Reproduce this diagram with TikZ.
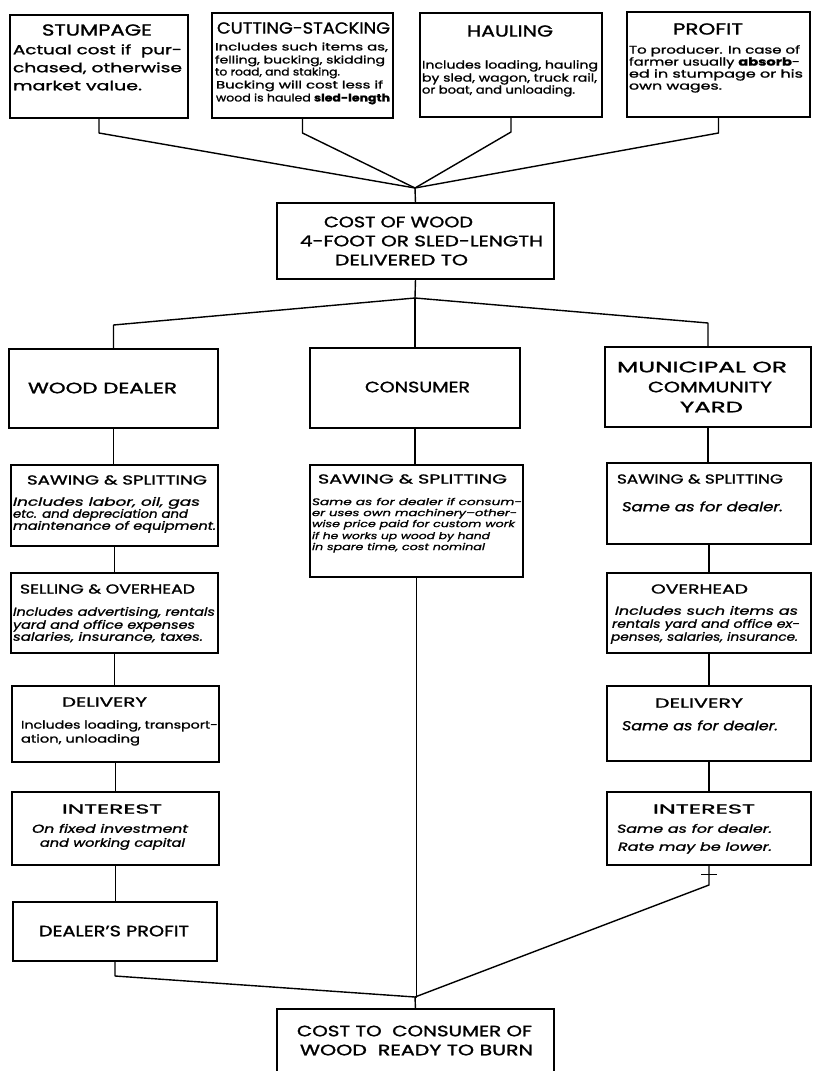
\documentclass[tikz,border=0pt]{standalone}
\usepackage{fontspec}
\setmainfont{Poppins}[FakeBold=1.2]
\usepackage{graphicx}
\usetikzlibrary{calc}

% squeeze or stretch a line of lettering to a given width (in pt)
\newcommand\fitto[2]{\resizebox{#1pt}{\height}{#2}}
\newcounter{tn}
% one line of lettering: style, x, y, width, text
\newcommand\lineat[5]{\stepcounter{tn}\node[#1] (t\arabic{tn}) at (#2,#3) {\fitto{#4}{#5}};}
% a framed box from its top-left and bottom-right corners
\newcommand\pbox[5]{%
  \pgfmathsetmacro\pbW{#4-#2}\pgfmathsetmacro\pbH{#5-#3}%
  \node[box, anchor=north west, minimum width=\pbW pt, minimum height=\pbH pt] (#1) at (#2,#3) {};}

\tikzset{
  box/.style={draw, line width=2.3pt, inner sep=0pt, outer sep=0pt, fill=white},
  wire/.style={line width=1.4pt, line join=round},
  txt/.style={inner sep=0pt, outer sep=0pt, anchor=west},
  ttop/.style={txt, font=\fontsize{16}{18}\selectfont, text height=11.2pt, text depth=0pt},
  tcap/.style={txt, font=\fontsize{15}{17}\selectfont, text height=10.5pt, text depth=0pt},
  thead/.style={txt, font=\fontsize{13}{15}\selectfont, text height=9.1pt, text depth=0pt},
  bodyL/.style={txt, font=\fontsize{13}{15}\selectfont, text height=8.5pt, text depth=0pt},
  body/.style={txt, font=\fontsize{11}{13}\selectfont, text height=7.2pt, text depth=0pt},
  bodyI/.style={txt, font=\fontsize{11.5}{13}\selectfont\itshape, text height=7.5pt, text depth=0pt},
  bodyS/.style={txt, font=\fontsize{10.5}{12}\selectfont, text height=6.9pt, text depth=0pt},
  bodyXS/.style={txt, font=\fontsize{9.5}{11}\selectfont\itshape, text height=6.2pt, text depth=0pt},
}

\begin{document}
\begin{tikzpicture}[x=1pt, y=-1pt]
\useasboundingbox (0,0) rectangle (812,1071);
\fill[white] (0,0) rectangle (812,1071);
\clip (0,0) rectangle (812,1071);

% ---------- top row: elements of the cost ----------
\pbox{stump}{10}{15}{188}{118}
\lineat{ttop}{42}{30}{110}{STUMPAGE}
\lineat{bodyL}{13}{50}{169}{Actual cost if\ \ pur-}
\lineat{bodyL}{13}{68}{169}{chased, otherwise}
\lineat{bodyL}{13}{86}{129}{market value.}

\pbox{cut}{212}{13}{393}{118}
\lineat{ttop}{217}{28}{173}{CUTTING-STACKING}
\lineat{bodyS}{215}{47}{173}{Includes such items as,}
\lineat{bodyS}{215}{60}{170}{felling, bucking, skidding}
\lineat{bodyS}{215}{72}{125}{to road, and staking.}
\lineat{bodyS}{216}{85}{167}{Bucking will cost less if}
\lineat{bodyS}{216}{98}{174}{wood is hauled \textbf{sled-length}}

\pbox{haul}{420}{13}{602}{117}
\lineat{ttop}{467}{31}{86}{HAULING}
\lineat{body}{422}{65}{176}{Includes loading, hauling}
\lineat{body}{422}{78}{175}{by sled, wagon, truck rail,}
\lineat{body}{422}{90}{153}{or boat, and unloading.}

\pbox{prof}{627}{12}{810}{117}
\lineat{ttop}{673}{29}{70}{PROFIT}
\lineat{body}{629}{50}{171}{To producer. In case of}
\lineat{body}{629}{62}{171}{farmer usually \textbf{absorb}-}
\lineat{body}{629}{74}{174}{ed in stumpage or his}
\lineat{body}{629}{86}{93}{own wages.}

% ---------- cost of the wood delivered ----------
\pbox{cow}{277}{203}{554}{279}
\lineat{tcap}{324}{222}{149}{COST OF WOOD}
\lineat{tcap}{300}{241}{243}{4-FOOT OR SLED-LENGTH}
\lineat{tcap}{335}{260}{133}{DELIVERED TO}

% ---------- the three buyers ----------
\pbox{deal}{9}{349}{218}{428}
\lineat{tcap}{28}{388}{149}{WOOD DEALER}

\pbox{cons}{310}{348}{520}{428}
\lineat{tcap}{365}{387}{105}{CONSUMER}

\pbox{muni}{605}{347}{811}{427}
\lineat{tcap}{617}{367}{170}{MUNICIPAL OR}
\lineat{tcap}{648}{387}{124}{COMMUNITY}
\lineat{tcap}{680}{407}{63}{YARD}

% ---------- wood dealer column ----------
\pbox{dsaw}{11}{465}{218}{546}
\lineat{thead}{27}{480}{180}{SAWING \& SPLITTING}
\lineat{bodyI}{13}{502}{187}{Includes labor, oil, gas}
\lineat{bodyI}{13}{514}{175}{etc. and depreciation and}
\lineat{bodyI}{13}{526}{203}{maintenance of equipment.}

\pbox{sell}{11}{573}{218}{653}
\lineat{thead}{20}{589}{175}{SELLING \& OVERHEAD}
\lineat{bodyI}{13}{612}{202}{Includes advertising, rentals}
\lineat{bodyI}{13}{625}{182}{yard and office expenses}
\lineat{bodyI}{13}{637}{190}{salaries, insurance, taxes.}

\pbox{ddel}{12}{686}{219}{762}
\lineat{thead}{62}{702}{85}{DELIVERY}
\lineat{body}{21}{725}{197}{Includes loading, transport-}
\lineat{body}{21}{739}{119}{ation, unloading}

\pbox{dint}{12}{792}{219}{865}
\lineat{thead}{62}{809}{100}{INTEREST}
\lineat{bodyI}{32}{829}{156}{On fixed investment}
\lineat{bodyI}{40}{843}{145}{and working capital}

\pbox{dprof}{13}{902}{217}{961}
\lineat{tcap}{39}{931}{150}{DEALER'S PROFIT}

% ---------- consumer column ----------
\pbox{csaw}{310}{465}{523}{577}
\lineat{thead}{318}{479}{189}{SAWING \& SPLITTING}
\lineat{bodyXS}{312}{502}{210}{Same as for dealer if consum-}
\lineat{bodyXS}{312}{513}{205}{er uses own machinery--other-}
\lineat{bodyXS}{312}{524}{203}{wise price paid for custom work}
\lineat{bodyXS}{312}{536}{178}{if he works up wood by hand}
\lineat{bodyXS}{312}{547}{173}{in spare time, cost nominal}

% ---------- municipal yard column ----------
\pbox{msaw}{607}{463}{811}{544}
\lineat{thead}{617}{479}{166}{SAWING \& SPLITTING}
\lineat{bodyL}{622}{507}{161}{\itshape Same as for dealer.}

\pbox{mover}{607}{573}{811}{653}
\lineat{thead}{651}{589}{97}{OVERHEAD}
\lineat{bodyI}{615}{611}{183}{Includes such items as}
\lineat{bodyI}{612}{624}{188}{rentals yard and office ex-}
\lineat{bodyI}{611}{637}{187}{penses, salaries, insurance.}

\pbox{mdel}{607}{686}{811}{761}
\lineat{thead}{655}{703}{88}{DELIVERY}
\lineat{bodyL}{622}{726}{156}{\itshape Same as for dealer.}

\pbox{mint}{607}{792}{811}{865}
\lineat{thead}{653}{809}{102}{INTEREST}
\lineat{bodyI}{617}{829}{155}{Same as for dealer.}
\lineat{bodyI}{618}{847}{154}{Rate may be lower.}

% ---------- final cost ----------
\pbox{ctc}{277}{1009}{554}{1110}
\lineat{tcap}{297}{1031}{235}{COST TO\ \ CONSUMER OF}
\lineat{tcap}{300}{1050}{233}{WOOD\ \ READY TO BURN}

% ---------- junctions ----------
\coordinate (jtop) at (415,188);
\coordinate (jmid) at (415,298);
\coordinate (jbot) at (415,997);

% ---------- connectors ----------
\draw[wire] (stump.south) -- ++(0,15) -- (jtop);
\draw[wire] (cut.south) -- ++(0,15) -- (jtop);
\draw[wire] (haul.south) -- ++(0,15) -- (jtop);
\draw[wire] (prof.south) -- ++(0,16) -- (jtop);
\draw[wire] (jtop) -- (cow.north);

\draw[wire] (cow.south) -- (jmid);
\draw[wire] (jmid) -- ($(deal.north)+(0,-24)$) -- (deal.north);
\draw[wire] (jmid) -- (cons.north);
\draw[wire] (jmid) -- ($(muni.north)+(0,-24)$) -- (muni.north);

\draw[wire] (deal.south) -- (deal.south |- dsaw.north);
\draw[wire] (dsaw.south) -- (dsaw.south |- sell.north);
\draw[wire] (sell.south) -- (sell.south |- ddel.north);
\draw[wire] (ddel.south) -- (ddel.south |- dint.north);
\draw[wire] (dint.south) -- (dint.south |- dprof.north);
\draw[wire] (dprof.south) -- ++(0,15) -- (jbot);

\draw[wire] (cons.south) -- (cons.south |- csaw.north);
\draw[wire] (csaw.south) -- (csaw.south |- jbot) -- (jbot);

\draw[wire] (muni.south) -- (muni.south |- msaw.north);
\draw[wire] (msaw.south) -- (msaw.south |- mover.north);
\draw[wire] (mover.south) -- (mover.south |- mdel.north);
\draw[wire] (mdel.south) -- (mdel.south |- mint.north);
\draw[wire] (mint.south) -- ++(0,20) -- (jbot);
\draw[wire, line width=1pt] ($(mint.south)+(-8,9)$) -- ($(mint.south)+(8,9)$);

\draw[wire] (jbot) -- (ctc.north);
\end{tikzpicture}
\end{document}
